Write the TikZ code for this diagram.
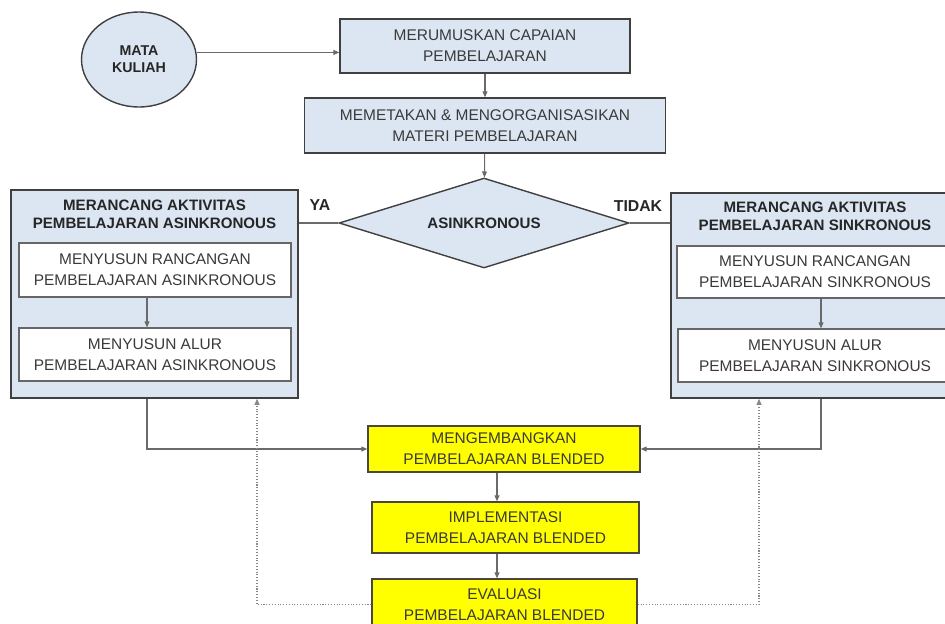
\documentclass[tikz,border=0pt]{standalone}
\usepackage{fontspec}
\setmainfont{Liberation Sans}
\usepackage{tikz}
\usetikzlibrary{arrows.meta,shapes.geometric}
\definecolor{boxblue}{HTML}{DCE6F2}
\definecolor{boxyellow}{HTML}{FFFF00}
\definecolor{edgegray}{HTML}{404040}
\definecolor{linegray}{HTML}{6A6A6A}
\definecolor{txtgray}{HTML}{3A3A3A}
\tikzset{>/.tip={Triangle[length=3.4pt,width=2.8pt]},
  bluebox/.style={draw=edgegray,line width=0.8pt,fill=boxblue,align=center,inner sep=0pt,text=txtgray,font=\fontsize{8.8}{11.8}\selectfont},
  outerbox/.style={draw=edgegray,line width=0.9pt,fill=boxblue,inner sep=0pt},
  innerbox/.style={draw=edgegray!80,line width=0.7pt,fill=white,align=center,inner sep=0pt,text=txtgray,font=\fontsize{8.8}{11.8}\selectfont},
  yellowbox/.style={draw=black!70!yellow!60!black,line width=0.8pt,fill=boxyellow,align=center,inner sep=0pt,text=txtgray,font=\fontsize{8.8}{11.8}\selectfont},
  titletext/.style={align=center,inner sep=0pt,text=black!85,font=\bfseries\fontsize{8.6}{10.2}\selectfont},
  link/.style={draw=linegray,line width=0.6pt},
  feedback/.style={draw=linegray!80,line width=0.6pt,densely dotted}}

\begin{document}
\begin{tikzpicture}[x=0.02cm,y=-0.02cm]
\clip (0,0) rectangle (945,623);

\node[ellipse,draw=edgegray,line width=0.8pt,fill=boxblue,minimum width=2.3cm,minimum height=1.9cm,inner sep=0pt,align=center,text=black!85,font=\bfseries\fontsize{8.1}{9.8}\selectfont] (MK) at (139,59.5) {MATA\\KULIAH};
\node[bluebox,minimum width=5.8cm,minimum height=1.08cm] (capaian) at (485,46) {MERUMUSKAN CAPAIAN\\PEMBELAJARAN};
\node[bluebox,minimum width=7.22cm,minimum height=1.1cm] (materi) at (485,125.5) {MEMETAKAN \& MENGORGANISASIKAN\\MATERI PEMBELAJARAN};
\node[diamond,shape aspect=3.2,draw=edgegray,line width=0.8pt,fill=boxblue,minimum width=5.8cm,minimum height=1.8cm,inner sep=0pt,text=black!85,font=\bfseries\fontsize{8.6}{10.2}\selectfont] (asinkron) at (484,223) {ASINKRONOUS};

\node[titletext,font=\bfseries\fontsize{9}{10.8}\selectfont] (ya) at (320,205) {YA};
\node[titletext,font=\bfseries\fontsize{9}{10.8}\selectfont] (tidak) at (638,206) {TIDAK};

\node[outerbox,minimum width=5.74cm,minimum height=4.16cm] (asinOut) at (154.5,294) {};
\node[titletext] (asinTitle) at (154.5,214) {MERANCANG AKTIVITAS\\PEMBELAJARAN ASINKRONOUS};
\node[innerbox,minimum width=5.44cm,minimum height=1.08cm] (asinRancang) at (155,270) {MENYUSUN RANCANGAN\\PEMBELAJARAN ASINKRONOUS};
\node[innerbox,minimum width=5.44cm,minimum height=1.06cm] (asinAlur) at (155,354.5) {MENYUSUN ALUR\\PEMBELAJARAN ASINKRONOUS};

\node[outerbox,minimum width=5.76cm,minimum height=4.1cm] (sinOut) at (815,295.5) {};
\node[titletext] (sinTitle) at (815,216.5) {MERANCANG AKTIVITAS\\PEMBELAJARAN SINKRONOUS};
\node[innerbox,minimum width=5.52cm,minimum height=1.04cm] (sinRancang) at (815,272) {MENYUSUN RANCANGAN\\PEMBELAJARAN SINKRONOUS};
\node[innerbox,minimum width=5.48cm,minimum height=1.06cm] (sinAlur) at (815,355.5) {MENYUSUN ALUR\\PEMBELAJARAN SINKRONOUS};

\node[yellowbox,minimum width=5.44cm,minimum height=0.92cm] (kembang) at (504,449) {MENGEMBANGKAN\\PEMBELAJARAN BLENDED};
\node[yellowbox,minimum width=5.34cm,minimum height=1.02cm] (implementasi) at (505.5,527.5) {IMPLEMENTASI\\PEMBELAJARAN BLENDED};
\node[yellowbox,minimum width=5.3cm,minimum height=1.02cm] (evaluasi) at (504.5,604.5) {EVALUASI\\PEMBELAJARAN BLENDED};

\coordinate (colL) at (147,0);
\coordinate (colR) at (821,0);
\coordinate (colM) at (497,0);
\coordinate (fbL) at (257,0);
\coordinate (fbR) at (759,0);

\draw[->,link] (MK.7) -- (MK.7 -| capaian.west);
\draw[->,link] (capaian) -- (materi);
\draw[->,link] (materi) -- (asinkron);
\draw[link] (asinkron.west) -- (asinOut.east |- asinkron.west);
\draw[link] (asinkron.east) -- (sinOut.west |- asinkron.east);
\draw[->,link] (asinRancang.south -| colL) -- (asinAlur.north -| colL);
\draw[->,link] (sinRancang.south -| colR) -- (sinAlur.north -| colR);
\draw[->,link] (asinOut.south -| colL) |- (kembang.west);
\draw[->,link] (sinOut.south -| colR) |- (kembang.east);
\draw[->,link] (kembang.south -| colM) -- (implementasi.north -| colM);
\draw[->,link] (implementasi.south -| colM) -- (evaluasi.north -| colM);
\draw[->,feedback] (evaluasi.west) -| (asinOut.south -| fbL);
\draw[->,feedback] (evaluasi.east) -| (sinOut.south -| fbR);
\end{tikzpicture}
\end{document}
